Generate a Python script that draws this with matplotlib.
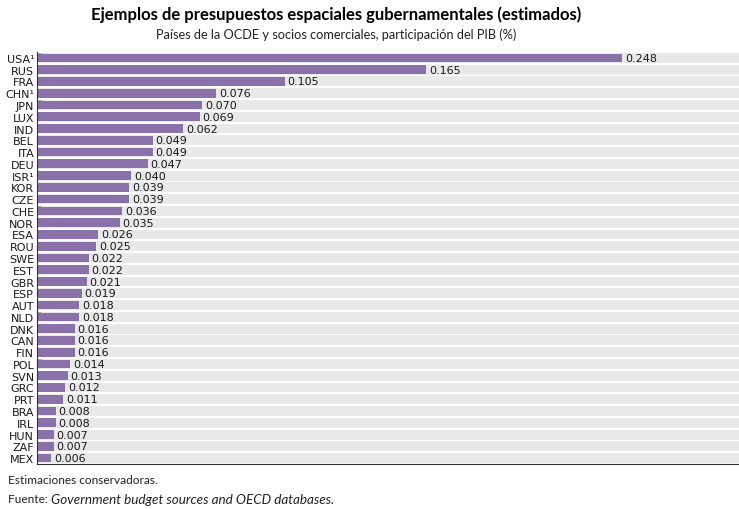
import matplotlib.pyplot as plt
import numpy as np

countries = ["USA¹", "RUS", "FRA", "CHN¹", "JPN", "LUX", "IND", "BEL", "ITA", "DEU",
             "ISR¹", "KOR", "CZE", "CHE", "NOR", "ESA", "ROU", "SWE", "EST", "GBR",
             "ESP", "AUT", "NLD", "DNK", "CAN", "FIN", "POL", "SVN", "GRC", "PRT",
             "BRA", "IRL", "HUN", "ZAF", "MEX"]
values = [0.248, 0.165, 0.105, 0.076, 0.070, 0.069, 0.062, 0.049, 0.049, 0.047,
          0.040, 0.039, 0.039, 0.036, 0.035, 0.026, 0.025, 0.022, 0.022, 0.021,
          0.019, 0.018, 0.018, 0.016, 0.016, 0.016, 0.014, 0.013, 0.012, 0.011,
          0.008, 0.008, 0.007, 0.007, 0.006]

lab = ["DejaVu Sans"]
txt = ["Lato", "DejaVu Sans"]
purple = "#8a71a9"

fig = plt.figure(figsize=(7.39, 5.10), dpi=100)
ax = fig.add_axes([37 / 739, 1 - 465 / 510, 1 - 37 / 739, (465 - 53) / 510])

n = len(countries)
y = np.arange(n)
# grey row bands
for yi in y:
    ax.axhspan(yi - 0.42, yi + 0.42, color="#e9e9e9", zorder=0, lw=0)
ax.barh(y, values, height=0.74, color=purple, zorder=2)
for yi, v in zip(y, values):
    ax.text(v + 0.0012, yi, "%.3f" % v, va="center", ha="left",
            fontsize=8, color="#1a1a1a", family=lab)

ax.set_ylim(n - 0.5, -0.5)
ax.set_xlim(0, 0.2976)
ax.set_yticks(y)
ax.set_yticklabels(countries, fontsize=8, family=lab, color="#1a1a1a")
ax.set_yticks(y - 0.38, minor=True)
ax.tick_params(axis="y", which="major", length=0, pad=2)
ax.tick_params(axis="y", which="minor", length=3, direction="in", color="#999999", width=0.6)
ax.set_xticks([])
for s in ["top", "right"]:
    ax.spines[s].set_visible(False)
ax.spines["left"].set_color("#333333")
ax.spines["bottom"].set_color("#333333")

fig.text(0.455, 1 - 15 / 510, "Ejemplos de presupuestos espaciales gubernamentales (estimados)",
         ha="center", va="center", fontsize=12, fontweight="bold", family=txt)
fig.text(0.455, 1 - 35 / 510, "Países de la OCDE y socios comerciales, participación del PIB (%)",
         ha="center", va="center", fontsize=9.2, family=txt, color="#222222")
fig.text(8 / 739, 1 - 481 / 510, "Estimaciones conservadoras.",
         ha="left", va="center", fontsize=8.6, family=txt, color="#222222")
t1 = fig.text(8 / 739, 1 - 500 / 510, "Fuente: ",
              ha="left", va="center", fontsize=8.6, family=txt, color="#222222")
fig.canvas.draw()
bb = t1.get_window_extent()
fig.text(bb.x1 / fig.bbox.width, 1 - 500 / 510, "Government budget sources and OECD databases.",
         ha="left", va="center", fontsize=9.7, style="italic", family=txt, color="#222222")

fig.savefig("out.png", dpi=100)
